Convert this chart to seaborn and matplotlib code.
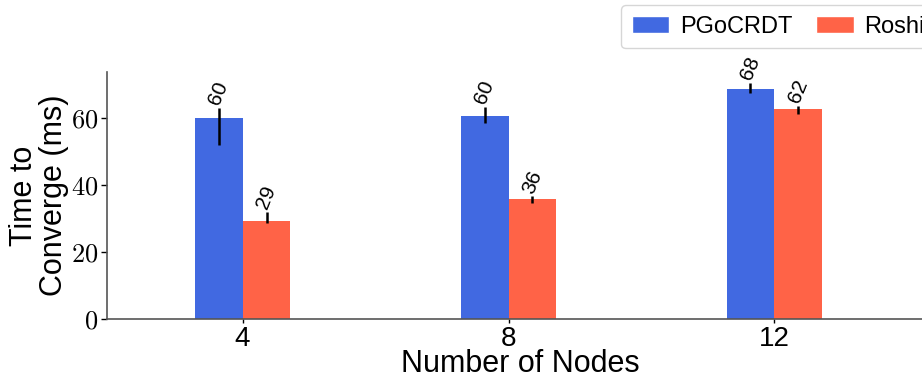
import matplotlib
matplotlib.use("Agg")
import matplotlib.pyplot as plt
import seaborn as sns
import pandas as pd
import numpy as np

nodes = ["4", "8", "12"]
systems = ["PGoCRDT", "Roshi"]
pgo_mean = [59.9, 60.6, 68.7]
pgo_lo = [51.9, 58.6, 67.4]
pgo_hi = [63.1, 63.4, 70.5]
roshi_mean = [29.2, 35.8, 62.7]
roshi_lo = [28.6, 34.7, 61.2]
roshi_hi = [32.0, 36.7, 63.6]
labels_pgo = ["60", "60", "68"]
labels_roshi = ["29", "36", "62"]
colors = ["#4169E1", "#FF6347"]

sns.set_style("white")
plt.rcParams["font.family"] = ["Liberation Sans", "DejaVu Sans"]
plt.rcParams["mathtext.fontset"] = "cm"
plt.rcParams["text.color"] = "black"
plt.rcParams["axes.labelcolor"] = "black"
plt.rcParams["xtick.color"] = "black"
plt.rcParams["ytick.color"] = "black"

df = pd.DataFrame({
    "Nodes": nodes * 2,
    "System": [systems[0]] * 3 + [systems[1]] * 3,
    "Time": pgo_mean + roshi_mean,
})

fig = plt.figure(figsize=(9.22, 3.8), dpi=100)
ax = fig.add_axes([0.116, 0.1605, 0.897, 0.65])
sns.barplot(data=df, x="Nodes", y="Time", hue="System", order=nodes,
            hue_order=systems, palette=colors, width=0.36, ax=ax,
            errorbar=None, saturation=1, legend=True)

means = [pgo_mean, roshi_mean]
los = [pgo_lo, roshi_lo]
his = [pgo_hi, roshi_hi]
labs = [labels_pgo, labels_roshi]
bar_containers = list(ax.containers)
for s, cont in enumerate(bar_containers):
    for i, bar in enumerate(list(cont)):
        bar.set_edgecolor("none")
        xc = bar.get_x() + bar.get_width() / 2
        m = means[s][i]
        ax.errorbar([xc], [m], yerr=[[m - los[s][i]], [his[s][i] - m]],
                    fmt="none", ecolor="black", elinewidth=1.8, capsize=0)
        ax.text(xc, his[s][i], labs[s][i], rotation=68, ha="center",
                va="bottom", fontsize=15, color="black")

ax.set_xlim(-0.51, 2.6)
ax.set_ylim(0, 73.7)
ax.set_yticks([0, 20, 40, 60])
ax.set_yticklabels([f"${v}$" for v in [0, 20, 40, 60]], fontsize=19)
ax.tick_params(axis="x", labelsize=20, length=3, width=1, bottom=True, pad=2)
ax.tick_params(axis="y", length=4, width=1, left=True, pad=2)
ax.set_xlabel("Number of Nodes", fontsize=22, labelpad=-2)
ax.set_ylabel("Time to\nConverge (ms)", fontsize=22, labelpad=2, linespacing=1.0)
for sp in ["top", "right"]:
    ax.spines[sp].set_visible(False)
for sp in ["left", "bottom"]:
    ax.spines[sp].set_color("#555555")
    ax.spines[sp].set_linewidth(1.2)

leg = ax.legend(loc="upper left", bbox_to_anchor=(621 / 922, 1 - 5 / 380),
                bbox_transform=fig.transFigure, ncol=2, fontsize=17,
                frameon=True, fancybox=True, handlelength=1.6,
                handleheight=0.75, handletextpad=0.45, columnspacing=1.0,
                borderpad=0.45, borderaxespad=0)
leg.get_frame().set_edgecolor("#cccccc")

fig.savefig("out.png", dpi=100)
